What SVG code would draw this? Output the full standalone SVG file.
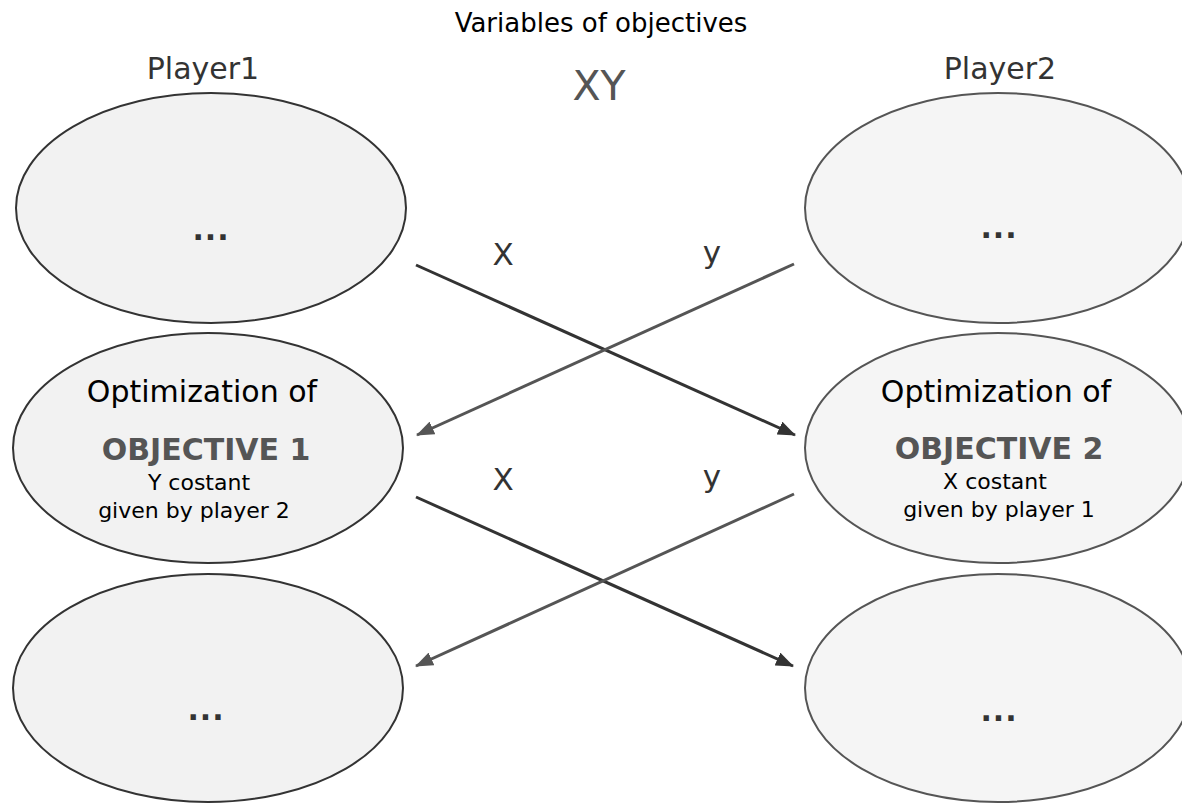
<svg xmlns="http://www.w3.org/2000/svg" width="1182" height="804" viewBox="0 0 1182 804">
<style>
  text { font-family: "DejaVu Sans", "Liberation Sans", sans-serif; }
  .l { fill: #f2f2f2; stroke: #333; stroke-width: 2; }
  .r { fill: #f5f5f5; stroke: #555; stroke-width: 2; }
  .hdr { font-size: 30px; fill: #333; text-anchor: middle; }
  .opt { font-size: 30px; fill: #000; text-anchor: middle; }
  .obj { font-size: 30px; font-weight: bold; fill: #555; text-anchor: middle; }
  .sub { font-size: 22px; fill: #000; text-anchor: middle; }
  .dots { font-size: 30px; font-weight: bold; fill: #333; text-anchor: middle; letter-spacing: 1px; }
  .lbl { font-size: 31px; fill: #333; text-anchor: middle; }
  .ax { stroke: #333; stroke-width: 3; fill: none; }
  .ay { stroke: #555; stroke-width: 3; fill: none; }
</style>
<defs>
  <marker id="hx" markerUnits="userSpaceOnUse" markerWidth="18" markerHeight="14" refX="17" refY="7" orient="auto">
    <path d="M0,0 L18,7 L0,14 Z" fill="#333"/>
  </marker>
  <marker id="hy" markerUnits="userSpaceOnUse" markerWidth="18" markerHeight="14" refX="17" refY="7" orient="auto">
    <path d="M0,0 L18,7 L0,14 Z" fill="#555"/>
  </marker>
</defs>
<rect width="1182" height="804" fill="#fff"/>

<g id="titles">
  <text x="601" y="32" font-size="26" text-anchor="middle" fill="#000">Variables of objectives</text>
  <text x="203" y="79" class="hdr">Player1</text>
  <text x="1000" y="79" class="hdr">Player2</text>
  <text x="599" y="100" font-size="41" text-anchor="middle" fill="#555">XY</text>
</g>

<g id="p1-top">
  <ellipse cx="211" cy="208" rx="195" ry="115" class="l"/>
  <text x="211" y="240" class="dots">...</text>
</g>
<g id="p2-top">
  <ellipse cx="998" cy="208" rx="193" ry="115" class="r"/>
  <text x="999" y="238" class="dots" fill="#555">...</text>
</g>
<g id="p1-mid">
  <ellipse cx="208" cy="448" rx="195" ry="115" class="l"/>
  <text x="202" y="402" class="opt">Optimization of</text>
  <text x="206" y="460" class="obj">OBJECTIVE 1</text>
  <text x="199" y="490" class="sub">Y costant</text>
  <text x="194" y="518" class="sub">given by player 2</text>
</g>
<g id="p2-mid">
  <ellipse cx="998" cy="448" rx="193" ry="115" class="r"/>
  <text x="996" y="402" class="opt">Optimization of</text>
  <text x="999" y="459" class="obj">OBJECTIVE 2</text>
  <text x="995" y="489" class="sub">X costant</text>
  <text x="999" y="517" class="sub">given by player 1</text>
</g>
<g id="p1-bot">
  <ellipse cx="208" cy="688" rx="195" ry="114" class="l"/>
  <text x="206" y="720" class="dots">...</text>
</g>
<g id="p2-bot">
  <ellipse cx="998" cy="688" rx="193" ry="114" class="r"/>
  <text x="999" y="721" class="dots" fill="#555">...</text>
</g>

<g id="connectors">
  <line x1="416" y1="265" x2="795" y2="435" class="ax" marker-end="url(#hx)"/>
  <line x1="794" y1="264" x2="417" y2="435" class="ay" marker-end="url(#hy)"/>
  <line x1="416" y1="497" x2="793" y2="666" class="ax" marker-end="url(#hx)"/>
  <line x1="794" y1="494" x2="416" y2="666" class="ay" marker-end="url(#hy)"/>
  <text x="503" y="265" class="lbl">X</text>
  <text x="712" y="263" class="lbl" fill="#555">y</text>
  <text x="503" y="490" class="lbl">X</text>
  <text x="712" y="487" class="lbl" fill="#555">y</text>
</g>
</svg>
